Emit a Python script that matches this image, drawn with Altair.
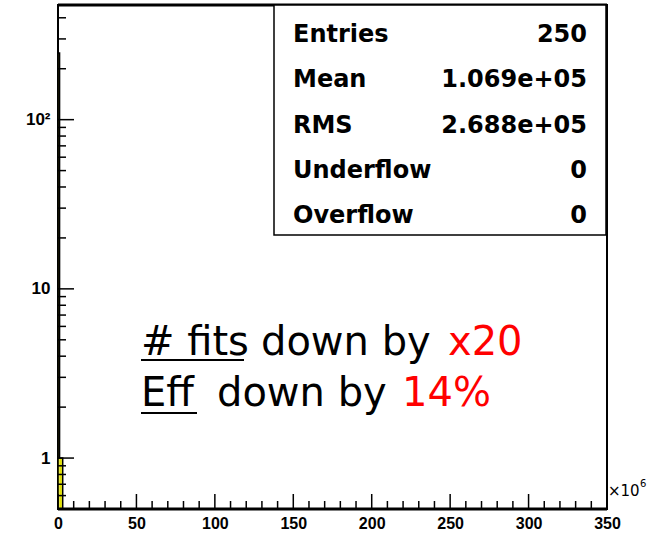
import altair as alt
import pandas as pd

# Histogram contents: bin edges and counts (x in units of 10^6)
bin_lo = [0.0, 1.0, 2.0]
bin_hi = [1.0, 2.0, 3.0]
counts = [248, 1, 1]

# Axis tick positions
x_major = [0, 50, 100, 150, 200, 250, 300, 350]
x_minor = [v for v in range(10, 350, 10) if v % 50 != 0]
y_major = [1, 10, 100]
y_minor = [0.6, 0.7, 0.8, 0.9, 2, 3, 4, 5, 6, 7, 8, 9,
           20, 30, 40, 50, 60, 70, 80, 90, 200, 300, 400]

# Statistics box
stat_names = ["Entries", "Mean", "RMS", "Underflow", "Overflow"]
stat_values = ["250", "1.069e+05", "2.688e+05", "0", "0"]

W, H = 549, 504
X_MIN, X_MAX = 0, 350
Y_MIN, Y_MAX = 0.5, 476

xs = alt.Scale(domain=[X_MIN, X_MAX], nice=False, zero=False)
ys = alt.Scale(type="log", domain=[Y_MIN, Y_MAX], nice=False)

x_axis = alt.Axis(values=x_major, title=None, domain=False, ticks=False, grid=False,
                  labelFont="Liberation Sans", labelFontWeight="bold", labelFontSize=16,
                  labelColor="black", labelPadding=6, labelFlush=False, labelOverlap=False)
y_axis = alt.Axis(values=y_major, title=None, domain=False, ticks=False, grid=False,
                  labelFont="Liberation Sans", labelFontWeight="bold", labelFontSize=17,
                  labelColor="black", labelPadding=8, labelOverlap=False,
                  labelExpr="datum.value >= 100 ? '10²' : format(datum.value, 'd')")

hist = pd.DataFrame({"x": bin_lo, "hi": bin_hi, "n": counts})

# histogram fill
bars = alt.Chart(hist).mark_rect(fill="#e0e000", strokeWidth=0).encode(
    x=alt.X("x:Q", scale=xs, axis=x_axis),
    x2="hi:Q",
    y=alt.Y("n:Q", scale=ys, axis=y_axis),
    y2=alt.value(H),
)

# histogram contour: up the first edge, along each bin top, down the last edge
cx, cy = [bin_lo[0]], [Y_MIN]
for lo, hi, n in zip(bin_lo, bin_hi, counts):
    cx += [lo, hi]
    cy += [n, n]
cx.append(bin_hi[-1])
cy.append(Y_MIN)
contour_df = pd.DataFrame({"x": cx, "n": cy, "k": range(len(cx))})
contour = alt.Chart(contour_df).mark_line(color="black", strokeWidth=1.5).encode(
    x=alt.X("x:Q", scale=xs, axis=x_axis),
    y=alt.Y("n:Q", scale=ys, axis=y_axis),
    order="k:Q",
)

def y_ticks(vals, length):
    return alt.Chart(pd.DataFrame({"n": vals})).mark_rule(color="black", strokeWidth=1.5).encode(
        y=alt.Y("n:Q", scale=ys, axis=y_axis), x=alt.value(0), x2=alt.value(length))

def x_ticks(vals, length):
    return alt.Chart(pd.DataFrame({"x": vals})).mark_rule(color="black", strokeWidth=1.5).encode(
        x=alt.X("x:Q", scale=xs, axis=x_axis), y=alt.value(H), y2=alt.value(H - length))

one = pd.DataFrame({"k": [0]})

# thicker top and bottom frame lines
frame_top = alt.Chart(one).mark_rule(color="black", strokeWidth=3).encode(
    x=alt.value(0), x2=alt.value(W), y=alt.value(0))
frame_bottom = alt.Chart(one).mark_rule(color="black", strokeWidth=3).encode(
    x=alt.value(0), x2=alt.value(W), y=alt.value(H))

# statistics box
box = alt.Chart(one).mark_rect(fill="white", stroke="black", strokeWidth=1.5).encode(
    x=alt.value(216), x2=alt.value(W - 1), y=alt.value(0), y2=alt.value(230))

stat_layers = []
for i, (name, val) in enumerate(zip(stat_names, stat_values)):
    row = pd.DataFrame({"name": [name], "val": [val]})
    yy = 37 + 45.25 * i
    stat_layers.append(alt.Chart(row).mark_text(
        font="DejaVu Sans", fontWeight="bold", fontSize=24, align="left",
        baseline="alphabetic", color="black").encode(
        x=alt.value(235), y=alt.value(yy), text="name:N"))
    stat_layers.append(alt.Chart(row).mark_text(
        font="DejaVu Sans", fontWeight="bold", fontSize=24, align="right",
        baseline="alphabetic", color="black").encode(
        x=alt.value(529), y=alt.value(yy), text="val:N"))

def note(txt, x, y, color="black"):
    return alt.Chart(one).mark_text(
        text=txt, font="DejaVu Sans", fontSize=40, align="left",
        baseline="alphabetic", color=color).encode(x=alt.value(x), y=alt.value(y))

def underline(x0, x1, y):
    return alt.Chart(one).mark_rule(color="black", strokeWidth=2).encode(
        x=alt.value(x0), x2=alt.value(x1), y=alt.value(y))

notes = [
    note("# fits", 83, 350), note("down by", 203, 350), note("x20", 390, 350, "#ff0000"),
    underline(83, 186, 355),
    note("Eff", 83, 401), note("down by", 159, 401), note("14%", 344, 401, "#ff0000"),
    underline(83, 139, 408),
]

# axis exponent label: "×10" with a raised "6"
exp_label = [
    alt.Chart(one).mark_text(text="×10", font="DejaVu Sans", fontSize=15, align="left",
                             baseline="alphabetic", color="black").encode(
        x=alt.value(550), y=alt.value(491)),
    alt.Chart(one).mark_text(text="6", font="DejaVu Sans", fontSize=10, align="left",
                             baseline="alphabetic", color="black").encode(
        x=alt.value(582), y=alt.value(482)),
]

chart = alt.layer(
    bars, contour,
    y_ticks(y_minor, 8), y_ticks(y_major, 16),
    x_ticks(x_minor, 8), x_ticks(x_major, 15),
    frame_top, frame_bottom,
    box, *stat_layers, *notes, *exp_label,
).properties(
    width=W, height=H,
    autosize=alt.AutoSizeParams(type="none"),
    padding={"left": 58, "top": 5, "right": 42, "bottom": 24},
    background="white",
).configure_view(stroke="black", strokeWidth=2)

chart.save("out.html", embed_options={"renderer": "svg", "actions": False})
